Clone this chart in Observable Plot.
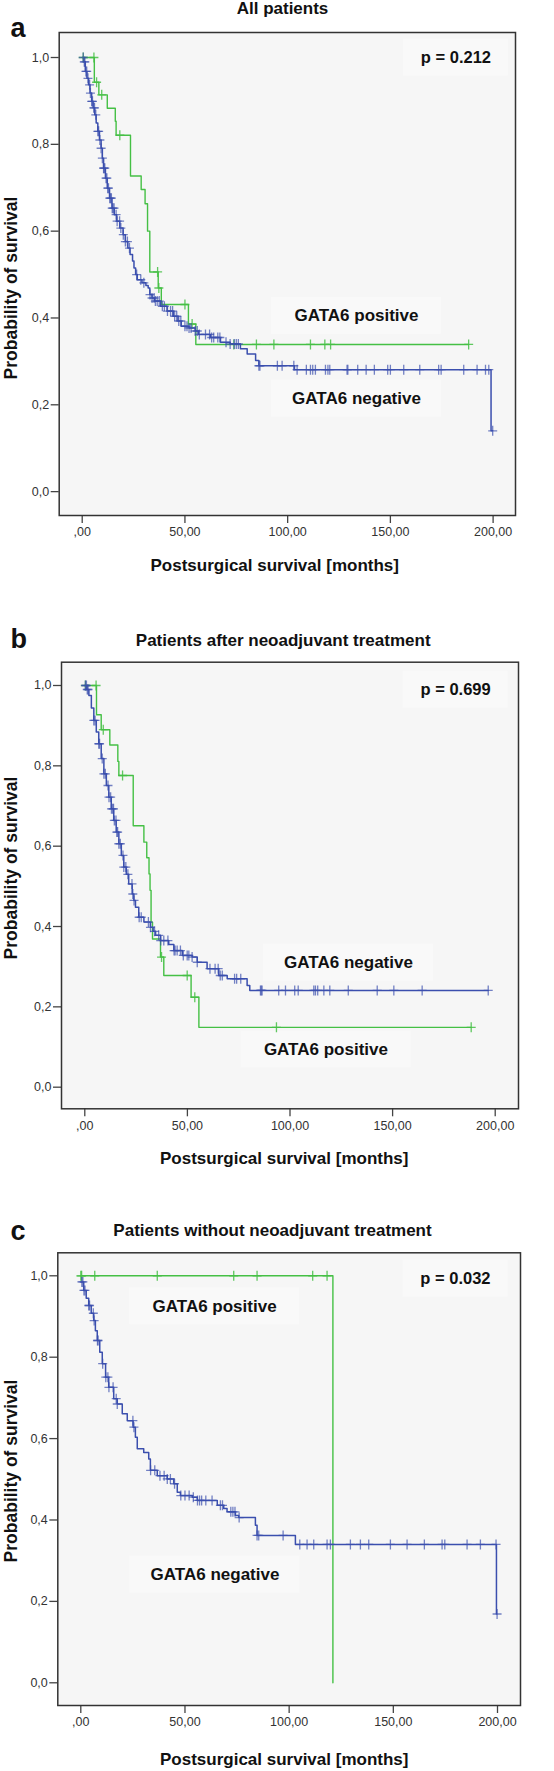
<!DOCTYPE html>
<html>
<head>
<meta charset="utf-8">
<script src="https://cdn.jsdelivr.net/npm/d3@7"></script>
<script src="https://cdn.jsdelivr.net/npm/@observablehq/plot@0.6"></script>
<style>
  html, body { margin: 0; padding: 0; background: #ffffff; }
  #chart svg { display: block; }
</style>
</head>
<body>
<div id="chart"></div>
<script>
// ---------- data ----------
const monthTicks = [0, 50, 100, 150, 200];
const probTicks = [0, 0.2, 0.4, 0.6, 0.8, 1.0];
const panelLetters = ["a", "b", "c"];
const panelTitles = ["All patients", "Patients after neoadjuvant treatment", "Patients without neoadjuvant treatment"];
const pValues = ["p = 0.212", "p = 0.699", "p = 0.032"];
const groupNames = ["GATA6 positive", "GATA6 negative"];
const xTitle = "Postsurgical survival [months]";
const yTitle = "Probability of survival";

// Panel a : all patients
const aPosSteps = [[0,1],[5.9,0.943],[8.1,0.914],[12.2,0.883],[16.1,0.853],[16.5,0.821],[23.5,0.727],[28.7,0.696],[30.6,0.663],[31.8,0.6],[32.9,0.506],[37,0.469],[38.5,0.431],[51.7,0.386],[55.3,0.339]];
const aPosCensor = [0.5,5.7,7.0,9.5,18.3,36.7,37.3,50,53.5,73.8,84.8,93.3,111.1,118.1,120.9,188.1];
const aNegSteps = [[0,1],[0.7,0.99],[1.5,0.968],[2.3,0.952],[3.1,0.937],[3.8,0.918],[4.6,0.899],[5.3,0.884],[6.1,0.868],[6.8,0.849],[7.6,0.83],[8.4,0.81],[9.2,0.791],[9.8,0.768],[10.4,0.745],[11.3,0.722],[12.2,0.699],[13.3,0.676],[14.5,0.653],[15.6,0.638],[16.8,0.623],[18.3,0.607],[19.9,0.592],[21,0.576],[22.2,0.561],[23.3,0.546],[24.5,0.531],[25.2,0.515],[26,0.5],[26.8,0.488],[29.1,0.481],[31,0.475],[32.1,0.469],[32.9,0.454],[34,0.446],[35.2,0.439],[38.2,0.427],[41.3,0.416],[44.3,0.404],[46.6,0.393],[48.2,0.381],[52,0.377],[55,0.37],[56.6,0.362],[62.4,0.355],[67.3,0.344],[72,0.34],[77,0.329],[80.3,0.317],[84.4,0.302],[86,0.29],[103.3,0.281],[199,0.14]];
const aNegCensor = [0.5,1,1.3,1.8,2.2,2.8,3.6,4,4.6,5,5.6,6,6.6,7.6,8,8.6,9.2,9.8,10.4,10.6,11,11.6,12,12.4,12.8,13.4,13.8,14.2,14.6,15,15.5,16.5,17,18.2,18.8,20,21,22,23,26.5,28.5,30,33,34,35,35.6,36.5,37.5,39,40,41.5,43,44,45,46,47,48,50,51,52,53,55,56,57,60,62,63,64,66,67,70,72,74,75,76,86,86.5,95,97.3,103,104.6,109.1,111.1,112.2,113.5,118.4,119.6,120.5,128.9,129.3,134.1,138.2,142.2,148.7,150,156.5,164.3,173.5,174.7,185.7,192.2,196.3,197.9,199.8];

// Panel b : after neoadjuvant treatment
const bPosSteps = [[0,1],[5.7,0.927],[8,0.89],[12.2,0.852],[16.1,0.811],[16.6,0.776],[23.6,0.651],[28.8,0.61],[30.2,0.571],[31.3,0.531],[31.8,0.49],[32.3,0.411],[33,0.369],[36.9,0.324],[38.5,0.278],[51.8,0.224],[55.6,0.149]];
const bPosCensor = [0.3,5.5,9.0,18.4,37.4,49.9,53.6,93.4,188.3];
const bNegSteps = [[0,1],[1,0.99],[2,0.975],[3.2,0.944],[4.4,0.913],[5.6,0.884],[6.8,0.855],[8,0.818],[9.3,0.78],[10.5,0.751],[11.7,0.722],[12.9,0.693],[14.1,0.664],[15.3,0.635],[16.6,0.606],[17.8,0.577],[19,0.548],[20.2,0.53],[21.4,0.506],[23.1,0.481],[23.9,0.465],[24.7,0.448],[26.3,0.423],[28.8,0.411],[32,0.398],[33.3,0.388],[34.5,0.378],[36.9,0.365],[40.9,0.355],[43.4,0.34],[47.5,0.328],[52.3,0.324],[54.8,0.311],[59.6,0.295],[65.3,0.278],[69.4,0.27],[79.1,0.253],[80.4,0.241]];
const bNegCensor = [0.3,0.8,1.2,1.6,4.4,5,6.8,7.2,8.5,9.3,10,11.3,11.8,12.6,13,13.6,14,14.4,15.2,15.6,16,16.6,17.3,18.6,19,20,21,23,23.4,24,26.5,27.5,31,32,34,36,37,38.5,40.5,43.5,44,45,46.6,48,49.9,50.7,52.3,54.8,61,63.5,65,66,67,73,74,76,85.6,86,86.4,94.5,97.8,102.3,104,111.6,112.4,113.5,116.5,119.4,128.4,142.5,150.6,164.4,196.6];

// Panel c : without neoadjuvant treatment
const cPosSteps = [[0,1],[121,0]];
const cPosCensor = [0,0.4,6.7,36.7,73.4,84.6,111.3,118.2];
const cNegSteps = [[0,0.985],[1.4,0.964],[2.6,0.945],[3.8,0.927],[5,0.908],[6.2,0.89],[7,0.865],[7.9,0.841],[9.1,0.812],[10.3,0.784],[11.9,0.751],[13.4,0.726],[15.8,0.698],[17.5,0.685],[19.9,0.661],[22.3,0.644],[25.1,0.628],[26.2,0.603],[27.1,0.575],[30.2,0.566],[32.6,0.55],[33.4,0.522],[36.7,0.509],[41.5,0.501],[44.6,0.489],[46.3,0.468],[47.8,0.46],[53.5,0.456],[55.9,0.448],[65.5,0.436],[68.6,0.428],[70.2,0.42],[74.2,0.411],[75.8,0.406],[83.8,0.387],[84.6,0.362],[103,0.34],[199.5,0.169]];
const cNegCensor = [0.5,1,1.5,2,3.8,4.2,6,6.4,8,8.3,10.5,12,13,13.5,15.5,17,17.5,25,25.5,33.5,35.5,38,40,41.5,43,45,48,50,52,54,56,57,58,60,63,67,68,72,73,74,76,84.6,85.4,97.1,105.1,108.6,111.8,118.2,119.8,129.4,134.2,138.2,148.6,156.6,164.9,173.4,174.7,185.4,191.8,199.3,199.8];

// annotation anchors (data coordinates: months, probability)
const aNotes = [[181.9, 1.0], [133.5, 0.405], [133.5, 0.214]];
const bNotes = [[180.7, 0.99], [117.5, 0.094], [128.5, 0.31]];
const cNotes = [[179.8, 0.993], [64.2, 0.925], [64.4, 0.266]];

// ---------- helpers ----------
const FONT = "'Liberation Sans', Arial, Helvetica, sans-serif";
const GREEN = "#45c045";
const BLUE = "#3b4fae";

function stepAt(steps, t) {
  let s = steps[0][1];
  for (const [ti, si] of steps) { if (ti <= t) s = si; else break; }
  return s;
}
function curvePoints(steps, censor) {
  const pts = steps.map(([t, s]) => ({t, s}));
  const last = steps[steps.length - 1];
  const end = Math.max(last[0], ...censor);
  if (end > last[0]) pts.push({t: end, s: last[1]});
  return pts;
}
function censorPoints(steps, censor) {
  return censor.map(t => ({t, s: stepAt(steps, t)}));
}
const plusSymbol = {
  draw(context, size) {
    const r = Math.sqrt(size / Math.PI);
    context.moveTo(-r * 0.9, 0); context.lineTo(r * 0.9, 0);
    context.moveTo(0, -r); context.lineTo(0, r);
  }
};
const fmtX = d => d === 0 ? ",00" : d + ",00";
const fmtY = d => d.toFixed(1).replace(".", ",");

function panel(cfg) {
  const {height, frame, top, xDomain, yDomain, pos, neg, notes, idx, off} = cfg;
  const [L, T, R, B] = frame;
  const cx = (L + R) / 2, cy = (T + B) / 2;
  const mPerPx = (xDomain[1] - xDomain[0]) / (R - L);
  const pPerPx = (yDomain[1] - yDomain[0]) / (B - T);
  const noteData = [
    {t: notes[0][0], s: notes[0][1], text: pValues[idx], w: 105},
    {t: notes[1][0], s: notes[1][1], text: groupNames[cfg.labelOrder[0]], w: 170},
    {t: notes[2][0], s: notes[2][1], text: groupNames[cfg.labelOrder[1]], w: 170}
  ];
  const boxH = 37;
  const markStyle = {x: "t", y: "s", symbol: plusSymbol, r: 5, fill: "none", strokeWidth: 1.3};
  return Plot.plot({
    width: 554,
    height,
    marginLeft: L,
    marginRight: 554 - R,
    marginTop: T - top,
    marginBottom: top + height - B,
    x: {domain: xDomain, label: null},
    y: {domain: yDomain, label: null},
    style: {fontFamily: FONT, fontSize: "12px", background: "#ffffff", overflow: "visible"},
    marks: [
      Plot.frame({fill: "#f6f6f6", stroke: null}),
      Plot.rect(noteData, {
        x1: d => d.t - d.w / 2 * mPerPx, x2: d => d.t + d.w / 2 * mPerPx,
        y1: d => d.s - boxH / 2 * pPerPx, y2: d => d.s + boxH / 2 * pPerPx,
        fill: "#f9f9f9"
      }),
      Plot.axisX({ticks: monthTicks, tickFormat: fmtX, tickSize: 8, tickPadding: 4, fontSize: 12.5, fill: "#333", stroke: "#444", strokeWidth: 1.3, label: null}),
      Plot.axisY({ticks: probTicks, tickFormat: fmtY, tickSize: 8, tickPadding: 2, fontSize: 12.5, fill: "#333", stroke: "#444", strokeWidth: 1.3, label: null}),
      Plot.line(curvePoints(pos.steps, pos.censor), {x: "t", y: "s", curve: "step-after", stroke: GREEN, strokeWidth: 1.4}),
      Plot.line(curvePoints(neg.steps, neg.censor), {x: "t", y: "s", curve: "step-after", stroke: BLUE, strokeWidth: 1.5}),
      Plot.dot(censorPoints(pos.steps, pos.censor), {...markStyle, stroke: GREEN, strokeOpacity: 0.85}),
      Plot.dot(censorPoints(neg.steps, neg.censor), {...markStyle, stroke: BLUE, strokeOpacity: 0.7}),
      Plot.text(noteData, {x: "t", y: "s", text: "text", fontSize: d => d.w > 150 ? 17 : 16.5, fontWeight: "bold", fill: "#111"}),
      Plot.frame({stroke: "#333", strokeWidth: 1.5}),
      // titles and axis labels
      Plot.text([panelTitles[idx]], {text: d => d, frameAnchor: "top", textAnchor: "middle", lineAnchor: "middle", dx: off.title[0] - cx, dy: off.title[1] - T, fontSize: 17, fontWeight: "bold", fill: "#111"}),
      Plot.text([panelLetters[idx]], {text: d => d, frameAnchor: "top-left", textAnchor: "start", lineAnchor: "middle", dx: 10 - L, dy: off.letter - T, fontSize: 27, fontWeight: "bold", fill: "#111"}),
      Plot.text([xTitle], {text: d => d, frameAnchor: "bottom", textAnchor: "middle", lineAnchor: "middle", dx: off.xlab[0] - cx, dy: off.xlab[1] - B, fontSize: 17, fontWeight: "bold", fill: "#111"}),
      Plot.text([yTitle], {text: d => d, frameAnchor: "left", textAnchor: "middle", lineAnchor: "middle", rotate: -90, dx: 11 - L, dy: off.ylab - cy, fontSize: 17.5, fontWeight: "bold", fill: "#111"})
    ]
  });
}

const root = document.getElementById("chart");
root.append(panel({
  idx: 0, top: 0, height: 580, frame: [58.7, 32, 515, 515],
  xDomain: [-11.2, 210.9], yDomain: [-0.055, 1.0576],
  pos: {steps: aPosSteps, censor: aPosCensor}, neg: {steps: aNegSteps, censor: aNegCensor},
  notes: aNotes, labelOrder: [0, 1],
  off: {title: [282, 8.5], letter: 28, xlab: [274.2, 565], ylab: 287.5}
}));
root.append(panel({
  idx: 1, top: 580, height: 585, frame: [61, 661.7, 518, 1108.3],
  xDomain: [-11.35, 211.35], yDomain: [-0.0538, 1.058],
  pos: {steps: bPosSteps, censor: bPosCensor}, neg: {steps: bNegSteps, censor: bNegCensor},
  notes: bNotes, labelOrder: [0, 1],
  off: {title: [282.7, 640], letter: 639, xlab: [283.7, 1158], ylab: 867.5}
}));
root.append(panel({
  idx: 2, top: 1165, height: 606, frame: [57.3, 1252.3, 520, 1705],
  xDomain: [-11.04, 211.04], yDomain: [-0.0558, 1.0565],
  pos: {steps: cPosSteps, censor: cPosCensor}, neg: {steps: cNegSteps, censor: cNegCensor},
  notes: cNotes, labelOrder: [0, 1],
  off: {title: [272, 1230], letter: 1231, xlab: [283.7, 1759.3], ylab: 1470.5}
}));
</script>
</body>
</html>
